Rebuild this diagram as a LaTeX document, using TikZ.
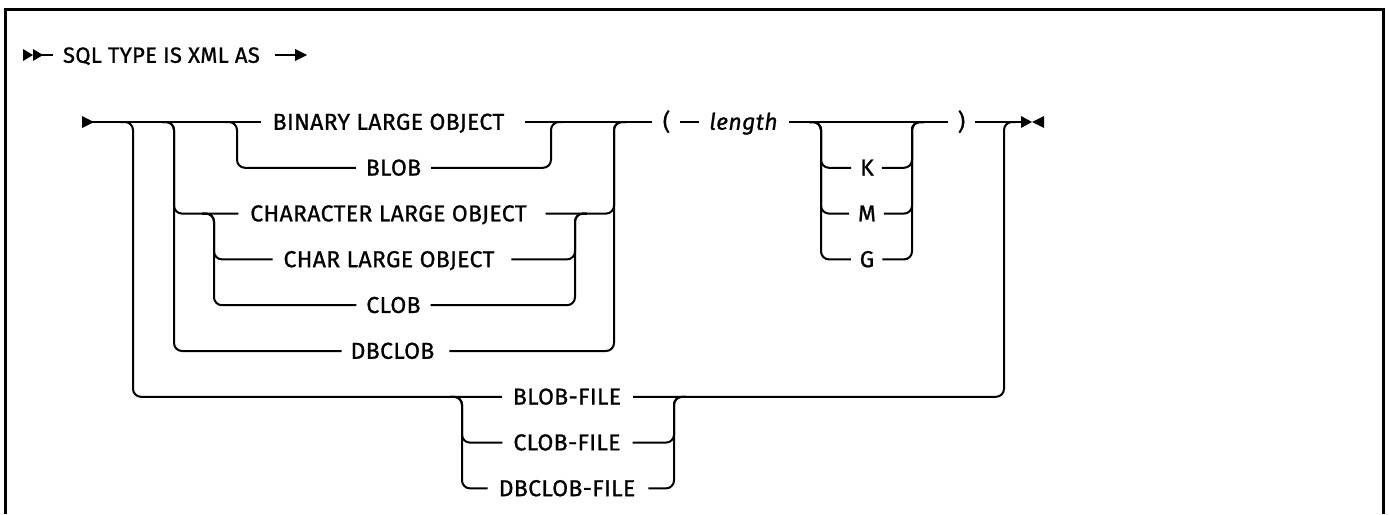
\documentclass[tikz,border=0pt]{standalone}
\usepackage{fontspec}
\setmainfont{Fira Sans}[FakeBold=0.9,LetterSpace=1.5]
\begin{document}
\begin{tikzpicture}[x=1pt,y=-1pt,line width=2pt,
  lbl/.style={inner sep=0pt,text height=15.5pt,text depth=0pt,font=\fontsize{23}{23}\selectfont},
  trk/.style={rounded corners=8pt},
  frame/.style={line width=3pt}]
\useasboundingbox (0,0) rectangle (1389,514);
\draw[frame] (5,514) -- (5,9.5) -- (1383.5,9.5) -- (1383.5,514);
% title row
\node[lbl,anchor=west,font=\fontsize{22}{22}\selectfont] (title) at (62,55) {SQL TYPE IS XML AS};
\fill (23,49) -- (33,55) -- (23,61) -- cycle;
\fill (33,49) -- (43,55) -- (33,61) -- cycle;
\draw (41,55) -- ([xshift=-9]title.west);
\coordinate (tarrow) at (307,55);
\draw ([xshift=14]title.east) -- ([xshift=-10]tarrow);
\fill (tarrow) -- +(-12,-6) -- +(-12,6) -- cycle;
% labels
\coordinate (start) at (82,122);
\node[lbl] (binary) at (388.5,122) {BINARY LARGE OBJECT};
\node[lbl] (blob) at (393.5,167.8) {BLOB};
\node[lbl] (character) at (388.5,213.6) {CHARACTER LARGE OBJECT};
\node[lbl] (char) at (389,259.4) {CHAR LARGE OBJECT};
\node[lbl] (clob) at (393.5,305.2) {CLOB};
\node[lbl] (dbclob) at (392.5,351) {DBCLOB};
\node[lbl] (blobfile) at (567,396.8) {BLOB-FILE};
\node[lbl] (clobfile) at (567,442.6) {CLOB-FILE};
\node[lbl] (dbclobfile) at (567,488.4) {DBCLOB-FILE};
\node[lbl] (lparen) at (666.5,122) {(};
\node[lbl,font=\fontsize{23}{23}\selectfont\itshape] (length) at (743.5,122) {length};
\node[lbl] (kk) at (867,167.8) {K};
\node[lbl] (mm) at (867,213.6) {M};
\node[lbl] (gg) at (867,259.4) {G};
\node[lbl] (rparen) at (961.5,122) {)};
\coordinate (finish) at (1021,122);
% main line
\fill (start) ++(0,-6) -- ++(12,6) -- ++(-12,6) -- cycle;
\draw ([xshift=10]start) -- ([xshift=-11]binary.west);
\draw ([xshift=20]binary.east) -- ([xshift=-10]lparen.west);
\draw ([xshift=9]lparen.east) -- ([xshift=-9]length.west);
\draw ([xshift=10]length.east) -- ([xshift=-9]rparen.west);
\draw ([xshift=9]rparen.east) -- (finish);
\fill (finish) ++(0,-6) -- ++(11,6) -- ++(-11,6) -- cycle;
\fill (finish) ++(23,-6) -- ++(-12,6) -- ++(12,6) -- cycle;
% BLOB group
\draw[trk] (225,122) -- (237,122) -- (237,167.8) -- ([xshift=-9]blob.west);
\draw[trk] ([xshift=9]blob.east) -- (551,167.8) -- (551,122) -- (563,122);
% second group
\draw[trk] (162,122) -- (174,122) -- (174,213.6) -- ([xshift=-11]character.west);
\draw[trk] (162,122) -- (174,122) -- (174,351) -- ([xshift=-8]dbclob.west);
\draw[trk] ([xshift=18]character.east) -- (614,213.6) -- (614,122) -- (626,122);
\draw[trk] ([xshift=14]dbclob.east) -- (614,351) -- (614,122) -- (626,122);
% CHAR group
\draw[trk] (202,213.6) -- (214,213.6) -- (214,259.4) -- ([xshift=-10]char.west);
\draw[trk] (202,213.6) -- (214,213.6) -- (214,305.2) -- ([xshift=-9]clob.west);
\draw[trk] ([xshift=16]char.east) -- (575,259.4) -- (575,213.6) -- (587,213.6);
\draw[trk] ([xshift=9]clob.east) -- (575,305.2) -- (575,213.6) -- (587,213.6);
% outer group / files
\draw[trk] (120,122) -- (133,122) -- (133,396.8) -- ([xshift=-10]blobfile.west);
\draw[trk] (450,396.8) -- (462,396.8) -- (462,442.6) -- ([xshift=-10]clobfile.west);
\draw[trk] (450,396.8) -- (462,396.8) -- (462,488.4) -- ([xshift=-10]dbclobfile.west);
\draw[trk] ([xshift=11]clobfile.east) -- (674,442.6) -- (674,396.8) -- (686,396.8);
\draw[trk] ([xshift=12]dbclobfile.east) -- (674,488.4) -- (674,396.8) -- (686,396.8);
\draw[trk] ([xshift=11]blobfile.east) -- (1004,396.8) -- (1004,122) -- (1016,122);
% K M G group
\draw[trk] (809,122) -- (821,122) -- (821,167.8) -- ([xshift=-8]kk.west);
\draw[trk] (809,122) -- (821,122) -- (821,213.6) -- ([xshift=-8]mm.west);
\draw[trk] (809,122) -- (821,122) -- (821,259.4) -- ([xshift=-8]gg.west);
\draw[trk] ([xshift=7]kk.east) -- (912,167.8) -- (912,122) -- (924,122);
\draw[trk] ([xshift=7]mm.east) -- (912,213.6) -- (912,122) -- (924,122);
\draw[trk] ([xshift=7]gg.east) -- (912,259.4) -- (912,122) -- (924,122);
\end{tikzpicture}
\end{document}
